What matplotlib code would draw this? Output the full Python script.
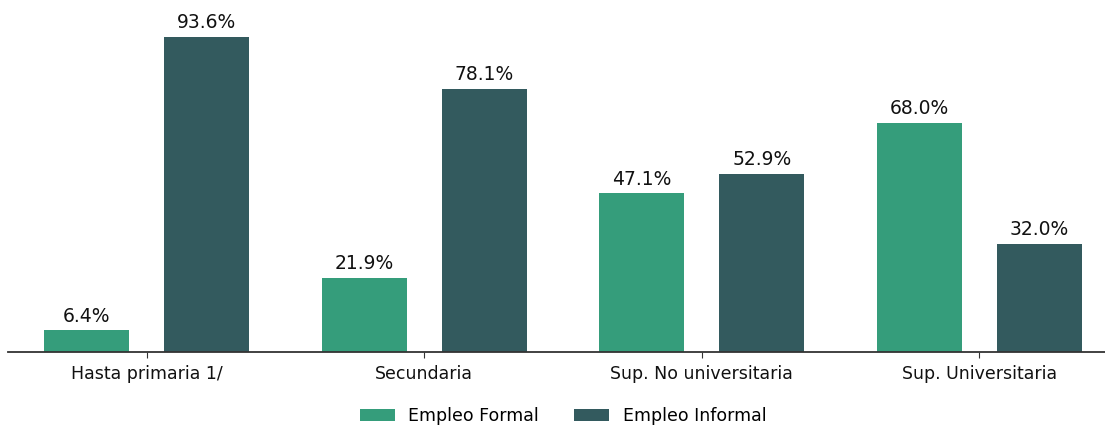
import matplotlib.pyplot as plt
import numpy as np

# Empleo formal vs informal por nivel educativo (%)
niveles = ['Hasta primaria 1/', 'Secundaria', 'Sup. No universitaria', 'Sup. Universitaria']
empleo_formal = [6.4, 21.9, 47.1, 68.0]
empleo_informal = [93.6, 78.1, 52.9, 32.0]

color_formal = '#359D7B'
color_informal = '#335A5E'


def etiquetar(ax, barras):
    # Escribe el porcentaje encima de cada barra
    for b in barras:
        ax.annotate(f'{b.get_height():.1f}%',
                    xy=(b.get_x() + b.get_width() / 2, b.get_height()),
                    xytext=(0, 3.5), textcoords='offset points',
                    ha='center', va='bottom', fontsize=13.5, color='#111111')


fig = plt.figure(figsize=(11.05, 4.25), dpi=100)
ax = fig.add_axes([8 / 1105, 73 / 425, 1110 / 1105, 352 / 425])

x = np.arange(len(niveles))
ancho = 0.307
desp = 0.216

b1 = ax.bar(x - desp, empleo_formal, ancho, color=color_formal, label='Empleo Formal')
b2 = ax.bar(x + desp, empleo_informal, ancho, color=color_informal, label='Empleo Informal')
etiquetar(ax, b1)
etiquetar(ax, b2)

ax.set_xlim(-0.5, 3.5)
ax.set_ylim(0, 104.6)
ax.set_xticks(x)
ax.set_xticklabels(niveles, fontsize=12.5, color='#111111')
ax.set_yticks([])
for lado in ['top', 'right', 'left']:
    ax.spines[lado].set_visible(False)
ax.spines['bottom'].set_color('#333333')
ax.spines['bottom'].set_linewidth(1.3)
ax.tick_params(axis='x', length=4, pad=5.5, color='#333333')

ax.legend(loc='center', bbox_to_anchor=(0.5, -0.182), ncol=2, frameon=False,
          fontsize=12.5)

fig.savefig('out.png', dpi=100)
